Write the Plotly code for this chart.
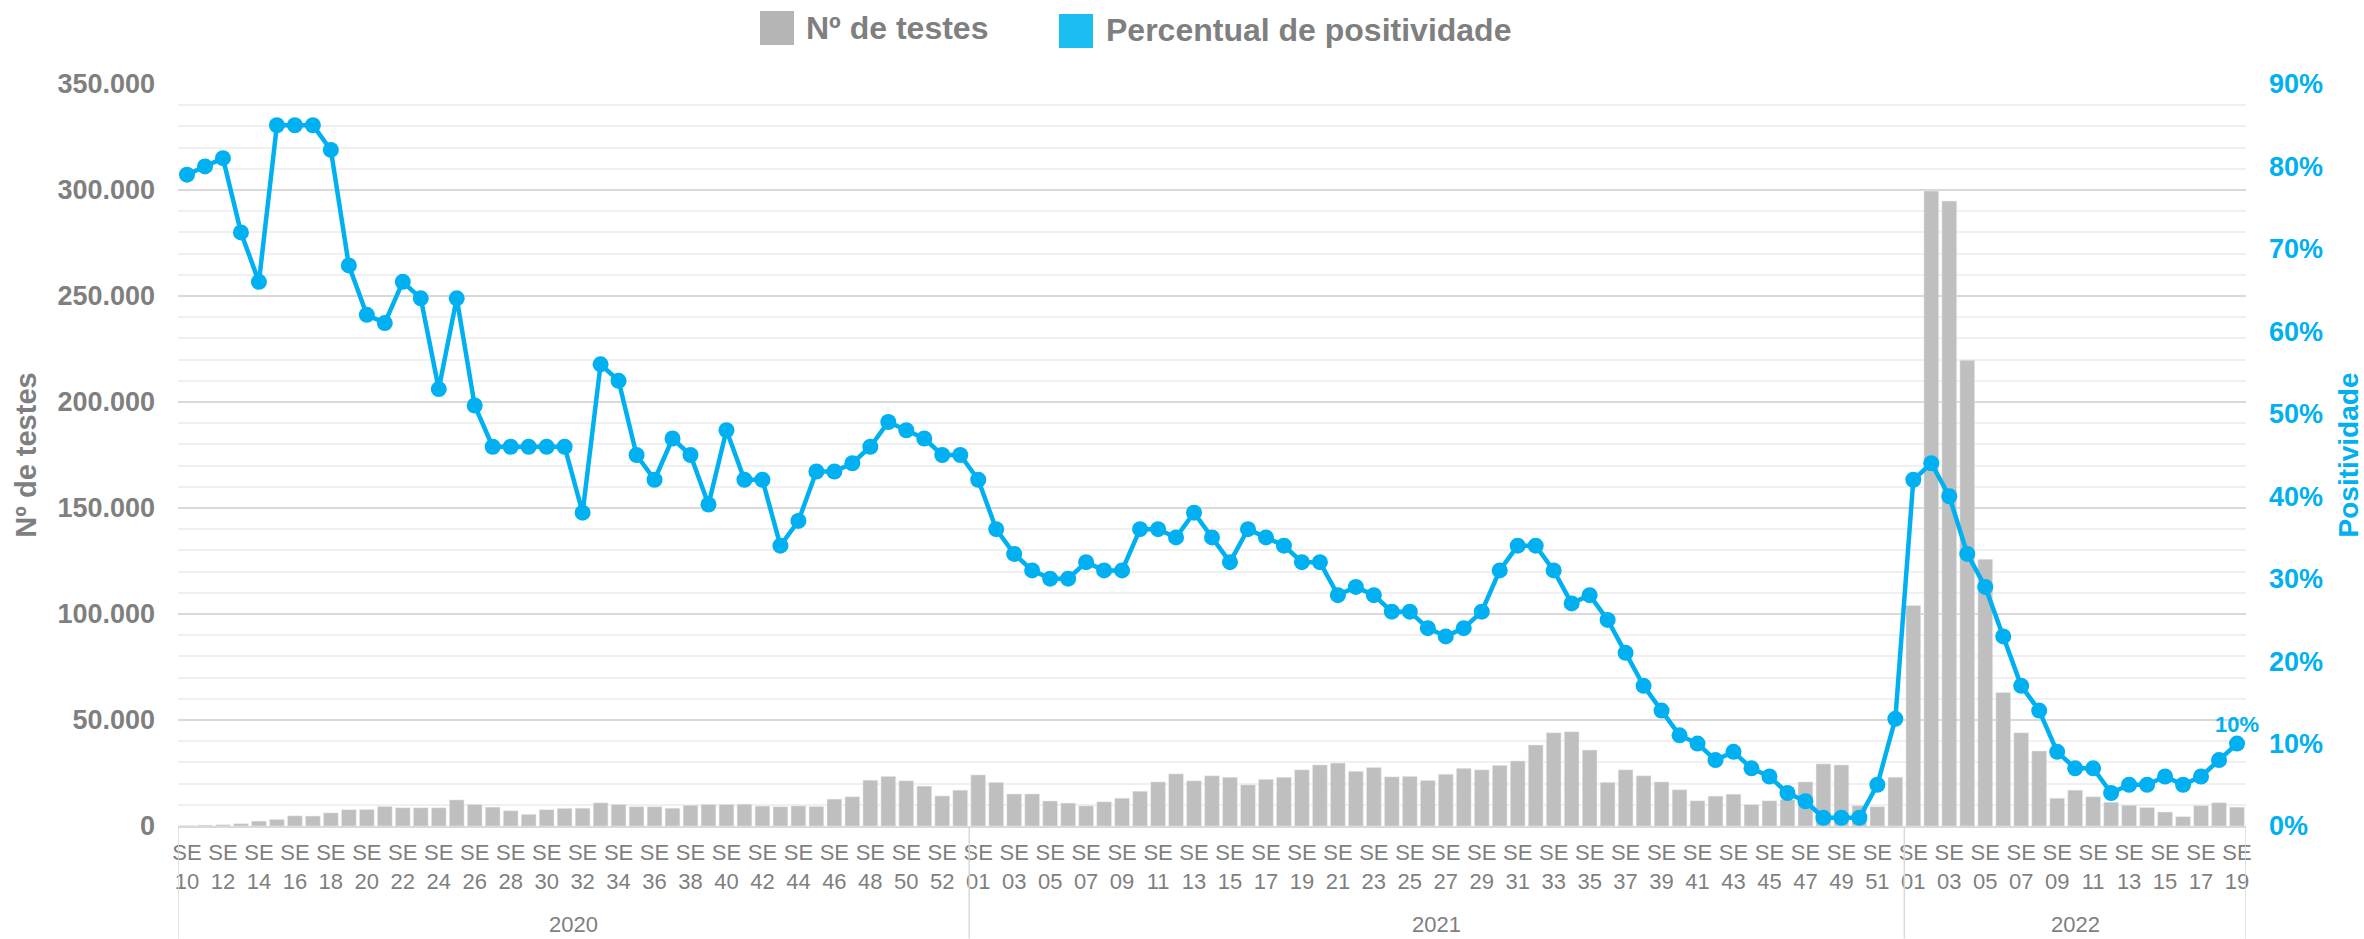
import plotly.graph_objects as go

# ---------------- data ----------------
years = ["2020", "2021", "2022"]
weeks_2020 = list(range(10, 54))
weeks_2021 = list(range(1, 53))
weeks_2022 = list(range(1, 20))

# Nº de testes (in tests)
tests_2020 = [200, 400, 600, 1100, 2300, 3100, 4800, 4700, 6200, 7700, 7800, 9200, 8600, 8600,
              8600, 12300, 10200, 8900, 7200, 5500, 7700, 8300, 8400, 10900, 10200, 9100, 9100,
              8400, 9800, 10200, 10200, 10300, 9400, 9100, 9500, 9200, 12700, 13800, 21600,
              23400, 21300, 18800, 14200, 16900]
tests_2021 = [24100, 20600, 15100, 15100, 11800, 10800, 9500, 11400, 13100, 16400, 20800, 24600,
              21300, 23700, 23000, 19400, 22000, 23000, 26500, 28800, 29700, 25800, 27600, 23200,
              23400, 21500, 24400, 27200, 26500, 28600, 30700, 38200, 44000, 44500, 35800, 20600,
              26500, 23700, 20800, 17100, 11900, 14100, 15000, 10100, 11900, 12500, 20800, 29300,
              28800, 9600, 9100, 23000]
tests_2022 = [104000, 299500, 294800, 219700, 125800, 63000, 44000, 35400, 13100, 16900, 13800,
              11200, 9800, 8700, 6600, 4400, 9600, 11000, 8900]

# Percentual de positividade (%)
pos_2020 = [79, 80, 81, 72, 66, 85, 85, 85, 82, 68, 62, 61, 66, 64, 53, 64, 51, 46, 46, 46, 46,
            46, 38, 56, 54, 45, 42, 47, 45, 39, 48, 42, 42, 34, 37, 43, 43, 44, 46, 49, 48, 47,
            45, 45]
pos_2021 = [42, 36, 33, 31, 30, 30, 32, 31, 31, 36, 36, 35, 38, 35, 32, 36, 35, 34, 32, 32, 28,
            29, 28, 26, 26, 24, 23, 24, 26, 31, 34, 34, 31, 27, 28, 25, 21, 17, 14, 11, 10, 8,
            9, 7, 6, 4, 3, 1, 1, 1, 5, 13]
pos_2022 = [42, 44, 40, 33, 29, 23, 17, 14, 9, 7, 7, 4, 5, 5, 6, 5, 6, 8, 10]

# ---------------- derived ----------------
week_groups = [weeks_2020, weeks_2021, weeks_2022]
weeks = weeks_2020 + weeks_2021 + weeks_2022
tests = tests_2020 + tests_2021 + tests_2022
pos = [v / 100 for v in pos_2020 + pos_2021 + pos_2022]
n = len(weeks)
xs = list(range(n))
tickvals = [i for i in xs if i % 2 == 0]
ticktext = [f"SE<br>{weeks[i]:02d}" for i in tickvals]

GRAY_TXT = "#7f7f7f"
CYAN = "#00b0f0"
BAR = "#bfbfbf"
FONT = "Arial, Liberation Sans, sans-serif"

W, H = 2364, 939
ML, MR, MT, MB = 178, 118, 84, 112.5
PW = W - ML - MR
PH = H - MT - MB


def px(xpix):
    return (xpix - ML) / PW


def py(ypix):
    return (H - MB - ypix) / PH


fig = go.Figure()
fig.add_trace(go.Bar(x=xs, y=tests, name="Nº de testes", marker_color=BAR, width=0.82,
                     showlegend=False))
fig.add_trace(go.Scatter(x=xs, y=pos, yaxis="y2", name="Percentual de positividade",
                         mode="lines+markers", line=dict(color=CYAN, width=4.5),
                         marker=dict(size=16, color=CYAN), showlegend=False, cliponaxis=False))

shapes = []
annotations = []

# year dividers and year labels
start = 0
bounds = [-0.5]
for yr, grp in zip(years, week_groups):
    end = start + len(grp) - 1
    bounds.append(end + 0.5)
    annotations.append(dict(x=(start + end) / 2, y=py(925), xref="x", yref="paper", text=yr,
                            xanchor="center", yanchor="middle", showarrow=False,
                            font=dict(family=FONT, size=22, color=GRAY_TXT)))
    start = end + 1
for b in bounds:
    shapes.append(dict(type="line", xref="x", yref="paper", x0=b, x1=b, y0=0, y1=py(H),
                       line=dict(color="#d9d9d9", width=1.5)))

# last value label
annotations.append(dict(x=xs[-1], y=pos[-1], xref="x", yref="y2", text=f"{pos_2022[-1]}%",
                        showarrow=False, yshift=19,
                        font=dict(family=FONT, size=22, color=CYAN, weight="bold")))

# legend (large square swatches as in the original)
shapes.append(dict(type="rect", xref="paper", yref="paper", x0=px(760), x1=px(794),
                   y0=py(45), y1=py(11), fillcolor="#b5b5b5", line=dict(width=0)))
shapes.append(dict(type="rect", xref="paper", yref="paper", x0=px(1059), x1=px(1093),
                   y0=py(48), y1=py(14), fillcolor="#1abef0", line=dict(width=0)))
annotations.append(dict(x=px(804), y=py(28), xref="paper", yref="paper", text="Nº de testes",
                        xanchor="left", yanchor="middle", showarrow=False,
                        font=dict(family=FONT, size=32, color=GRAY_TXT, weight="bold")))
annotations.append(dict(x=px(1104), y=py(30), xref="paper", yref="paper",
                        text="Percentual de positividade", xanchor="left", yanchor="middle",
                        showarrow=False,
                        font=dict(family=FONT, size=32, color=GRAY_TXT, weight="bold")))

fig.update_layout(
    width=W, height=H,
    margin=dict(l=ML, r=MR, t=MT, b=MB, pad=0, autoexpand=False),
    paper_bgcolor="white", plot_bgcolor="white",
    separators=",.",
    barmode="overlay",
    font=dict(family=FONT, color=GRAY_TXT),
    showlegend=False,
    shapes=shapes,
    annotations=annotations,
    xaxis=dict(range=[-0.5, n - 0.5], tickmode="array", tickvals=tickvals, ticktext=ticktext,
               tickangle=0, tickfont=dict(family=FONT, size=22, color=GRAY_TXT),
               showgrid=False, zeroline=False, showline=True, linecolor="#d9d9d9",
               linewidth=1.5, ticks="", ticklabelstandoff=6, automargin=False),
    yaxis=dict(range=[0, 350000], tickmode="linear", tick0=0, dtick=50000, tickformat=",d",
               tickfont=dict(family=FONT, size=27, color=GRAY_TXT, weight="bold"),
               showgrid=True, gridcolor="#d9d9d9", gridwidth=1.5, zeroline=False,
               minor=dict(dtick=10000, showgrid=True, gridcolor="#f0f0f0", gridwidth=1.5),
               ticklabelstandoff=22, automargin=False,
               title=dict(text="Nº de testes", standoff=12,
                          font=dict(family=FONT, size=29, color=GRAY_TXT, weight="bold"))),
    yaxis2=dict(range=[0, 0.9], overlaying="y", side="right", tickmode="linear", tick0=0,
                dtick=0.1, tickformat=".0%", showgrid=False, zeroline=False,
                tickfont=dict(family=FONT, size=27, color=CYAN, weight="bold"),
                ticklabelstandoff=22, automargin=False,
                title=dict(text="Positividade", standoff=20,
                           font=dict(family=FONT, size=28, color=CYAN, weight="bold"))),
)

fig.write_html("out.html", config={"displayModeBar": False},
               post_script="document.body.style.margin='0';")
